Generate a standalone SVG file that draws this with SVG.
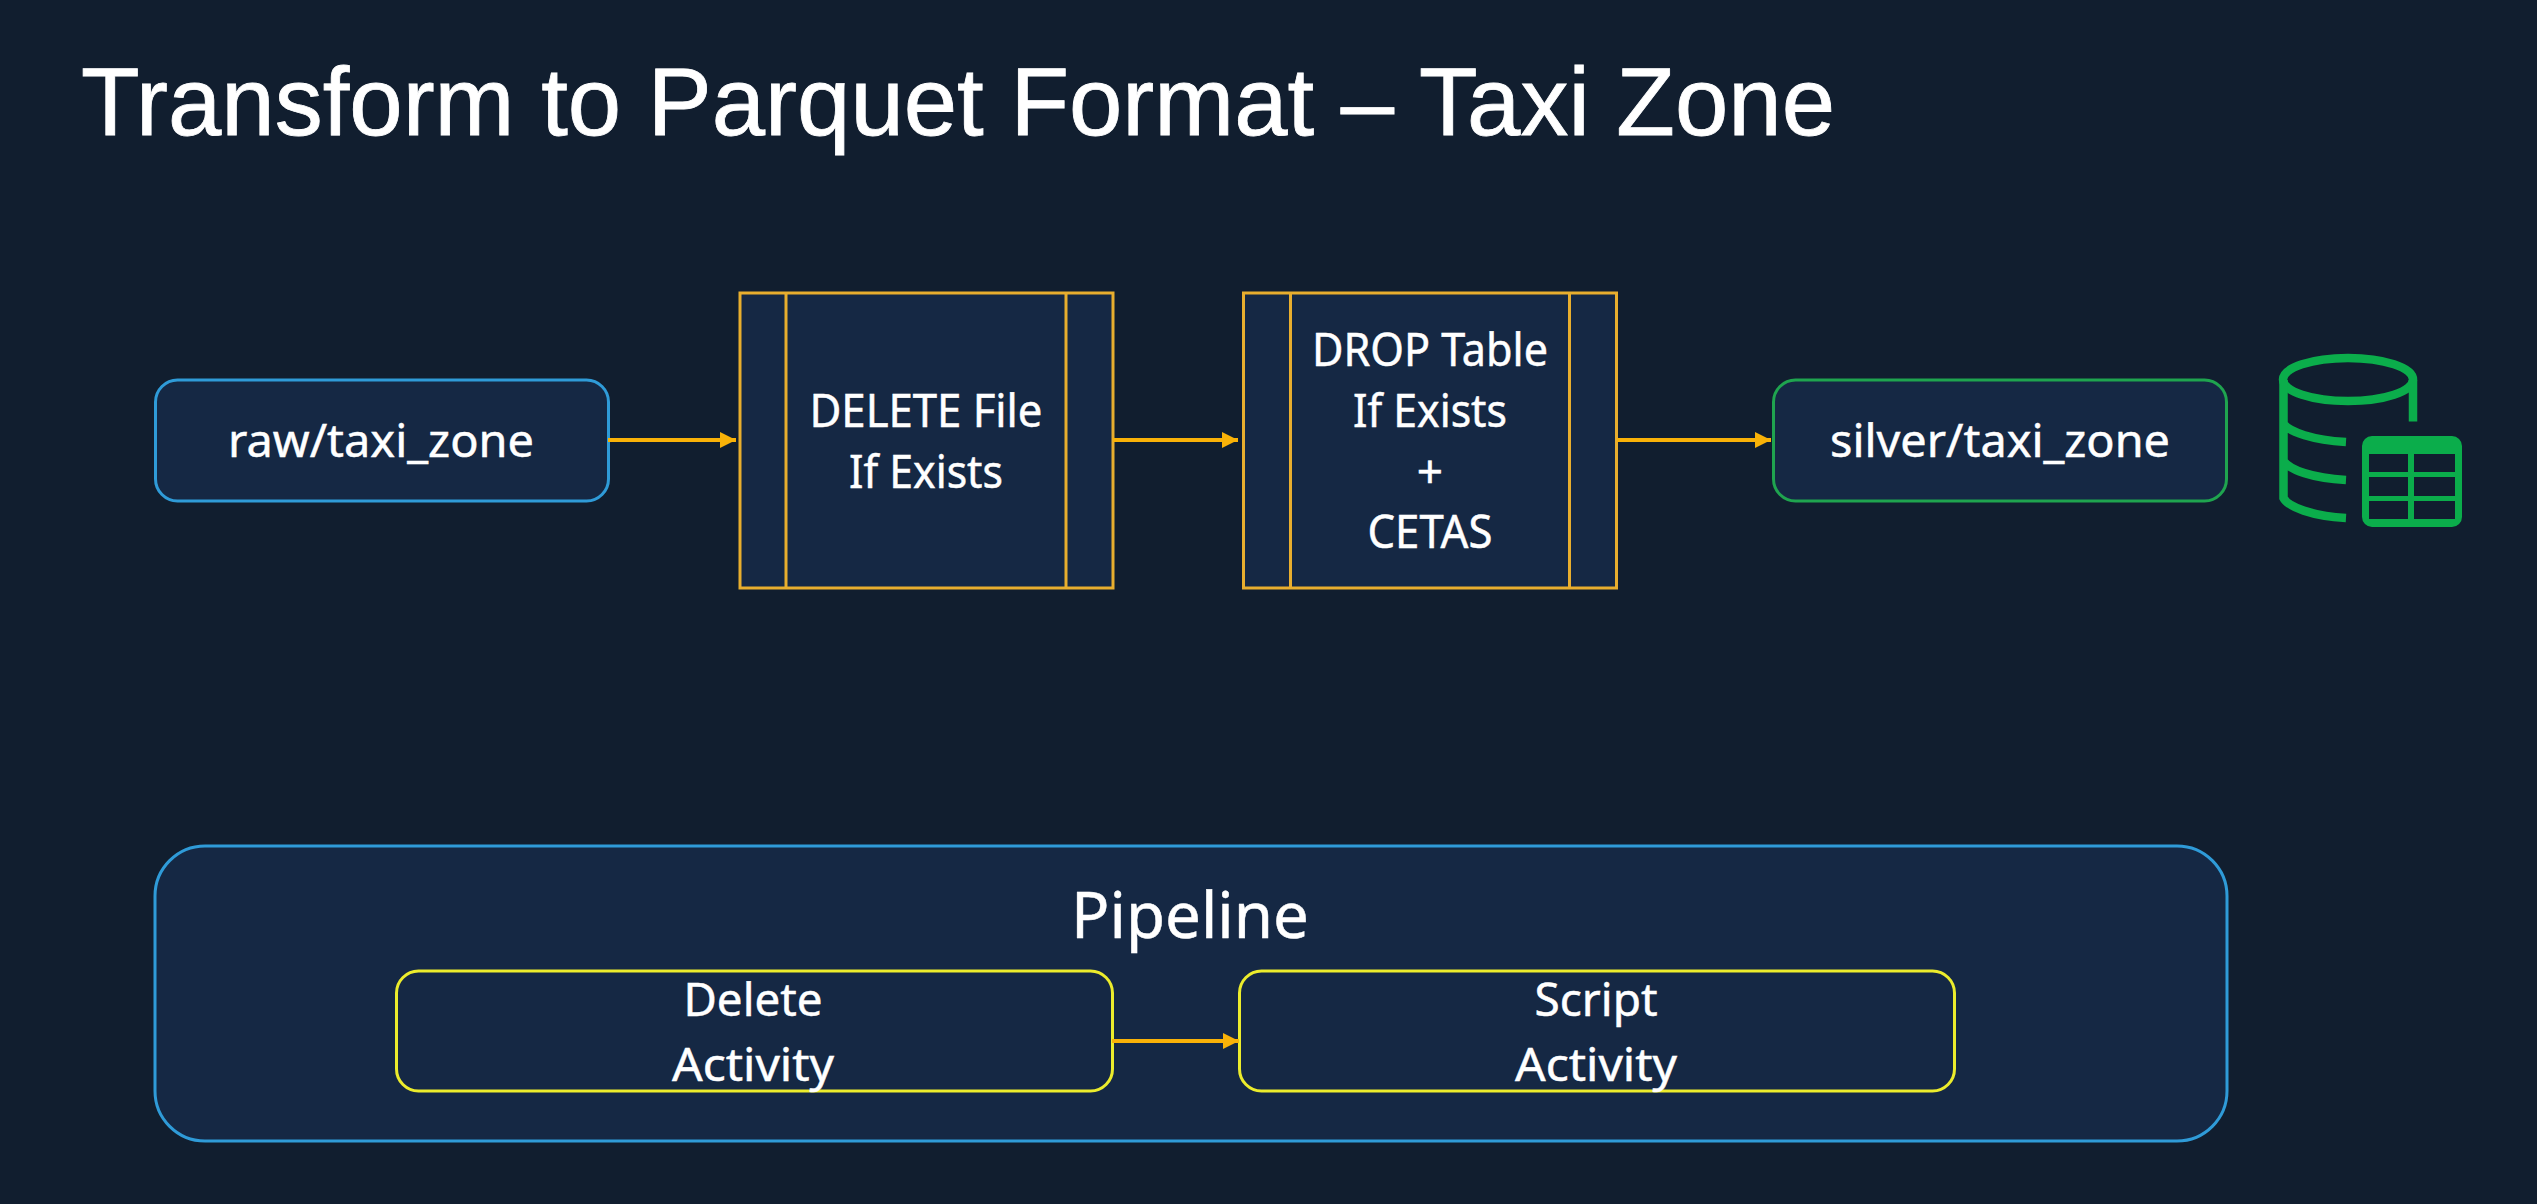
<svg xmlns="http://www.w3.org/2000/svg" width="2537" height="1204" viewBox="0 0 2537 1204">
<defs>
<marker id="arr" markerUnits="userSpaceOnUse" markerWidth="16" markerHeight="17" refX="16" refY="8.500" orient="auto"><path d="M0 0.500L16 8.500L0 16.500Z" fill="#f9b208"/></marker>
</defs>
<style>
text{font-family:"Noto Sans","Open Sans",sans-serif;fill:#fff;stroke:#fff;stroke-width:.5;text-anchor:middle}
.l{font-size:46px}
.b{fill:#152844}
.blue{stroke:#2f9bd8;stroke-width:3}
.green{stroke:#1fa44f;stroke-width:3}
.or{stroke:#e8ae2e;stroke-width:3}
.ln{fill:none}
.yl{stroke:#ecec2c;stroke-width:3}
.c{stroke:#f9b208;stroke-width:4;fill:none;marker-end:url(#arr)}
.ic{stroke:#0bad4b;stroke-width:8.500;fill:none}
</style>
<rect width="2537" height="1204" fill="#111e2f"/>
<text id="title" x="81" y="135" style="font-family:'Liberation Sans',Arial,sans-serif;text-anchor:start;font-size:96px;stroke-width:.8" textLength="1754" lengthAdjust="spacingAndGlyphs">Transform to Parquet Format – Taxi Zone</text>
<g id="pipeline"><rect class="b blue" x="155" y="846" width="2072" height="295" rx="50"/><text x="1190" y="938" style="font-size:64px" textLength="238" lengthAdjust="spacingAndGlyphs">Pipeline</text></g>
<g id="raw"><rect class="b blue" x="155.500" y="380" width="453" height="121" rx="22"/><text class="l" x="381" y="457" textLength="306" lengthAdjust="spacingAndGlyphs">raw/taxi_zone</text></g>
<g id="delete-file"><rect class="b or" x="740" y="293" width="373" height="295"/><path class="or ln" d="M786 293V588M1066 293V588"/><text class="l" x="926" y="427" textLength="233" lengthAdjust="spacingAndGlyphs">DELETE File</text><text class="l" x="926" y="488" textLength="154" lengthAdjust="spacingAndGlyphs">If Exists</text></g>
<g id="drop-table"><rect class="b or" x="1243.500" y="293" width="373" height="295"/><path class="or ln" d="M1290.500 293V588M1569.500 293V588"/><text class="l" x="1430" y="366" textLength="236" lengthAdjust="spacingAndGlyphs">DROP Table</text><text class="l" x="1430" y="427" textLength="154" lengthAdjust="spacingAndGlyphs">If Exists</text><text class="l" x="1430" y="488">+</text><text class="l" x="1430" y="548" textLength="125" lengthAdjust="spacingAndGlyphs">CETAS</text></g>
<g id="silver"><rect class="b green" x="1773.500" y="380" width="453" height="121" rx="22"/><text class="l" x="2000" y="457" textLength="340" lengthAdjust="spacingAndGlyphs">silver/taxi_zone</text></g>
<g id="silver-icon"><ellipse class="ic" cx="2348" cy="379.500" rx="65" ry="21.500"/><path class="ic" d="M2283.500 380V498C2288 507 2312 516 2346 518M2283.500 424C2290 432 2312 440 2346 442M2283.500 461C2290 470 2312 478 2346 480M2413 380V421.500"/><path fill="#0bad4b" fill-rule="evenodd" d="M2372 436H2452A10 10 0 0 1 2462 446V517A10 10 0 0 1 2452 527H2372A10 10 0 0 1 2362 517V446A10 10 0 0 1 2372 436ZM2369 454V472H2408V454ZM2414 454V472H2455V454ZM2369 477V496H2408V477ZM2414 477V496H2455V477ZM2369 501V519H2408V501ZM2414 501V519H2455V501Z"/></g>
<g id="delete-activity"><rect class="b yl" x="396.500" y="971" width="716" height="120" rx="22"/><text class="l" x="753" y="1016" textLength="139" lengthAdjust="spacingAndGlyphs">Delete</text><text class="l" x="753" y="1081" textLength="162" lengthAdjust="spacingAndGlyphs">Activity</text></g>
<g id="script-activity"><rect class="b yl" x="1239.500" y="971" width="715" height="120" rx="22"/><text class="l" x="1596" y="1016" textLength="123" lengthAdjust="spacingAndGlyphs">Script</text><text class="l" x="1596" y="1081" textLength="162" lengthAdjust="spacingAndGlyphs">Activity</text></g>
<g id="connectors">
<path class="c" d="M608 440H736"/>
<path class="c" d="M1113 440H1238"/>
<path class="c" d="M1617 440H1771"/>
<path class="c" d="M1112 1041H1239"/>
</g>
</svg>
